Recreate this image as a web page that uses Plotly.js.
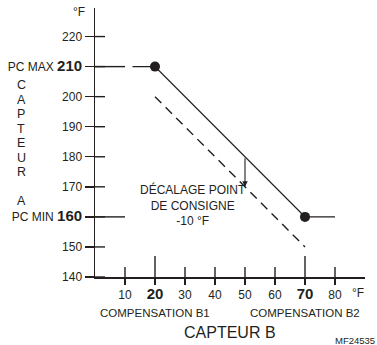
<!DOCTYPE html>
<html>
<head>
<meta charset="utf-8">
<script src="https://cdn.plot.ly/plotly-3.0.1.min.js"></script>
<style>html,body{margin:0;padding:0;background:#fff;}#chart{width:377px;height:345px;}</style>
</head>
<body>
<div id="chart"></div>
<script>
// ---- data ----
var yTickVals = [140, 150, 160, 170, 180, 190, 200, 210, 220];
var yTickText = ['140', '150', 'PC MIN <b><span style="font-size:15px">160</span></b>', '170', '180', '190', '200', 'PC MAX <b><span style="font-size:15px">210</span></b>', '220'];
var xTickVals = [10, 20, 30, 40, 50, 60, 70, 80];
var xTickText = ['10', '<b><span style="font-size:15px">20</span></b>', '30', '40', '50', '60', '<b><span style="font-size:15px">70</span></b>', '80'];
var xLongTicks = [20, 70];
var pcMax = 210, pcMin = 160;
var solidX = [12.5, 20, 70, 80];
var solidY = [210, 210, 160, 160];
var dotX = [20, 70];
var dotY = [210, 160];
var dashX = [20, 70];
var dashY = [200, 150];
var offsetX = 50, offsetFrom = 180, offsetTo = 170;
var offsetLabel = 'DÉCALAGE POINT<br>DE CONSIGNE<br>-10 °F';
var comp1 = 'COMPENSATION B1', comp2 = 'COMPENSATION B2';
var xTitle = 'CAPTEUR B';
var yTitle = 'CAPTEUR A';
var unitLabel = '°F';
var code = 'MF24535';

var FONT = 'Liberation Sans, Arial, Helvetica, sans-serif';
var INK = '#231f20';

var traces = [
  {x: solidX, y: solidY, mode: 'lines', line: {color: INK, width: 1.4}, hoverinfo: 'skip'},
  {x: dashX, y: dashY, mode: 'lines', line: {color: INK, width: 1.4, dash: '9px,6px'}, hoverinfo: 'skip'},
  {x: dotX, y: dotY, mode: 'markers', marker: {color: INK, size: 10}, hoverinfo: 'skip'}
];

var shapes = [];
// inside halves of y ticks
yTickVals.forEach(function (v) {
  shapes.push({type: 'line', xref: 'x', yref: 'y', xsizemode: 'pixel', xanchor: 0, x0: 0, x1: 10, y0: v, y1: v, line: {color: INK, width: 1.4}});
});
// long ticks for PC max/min
[pcMax, pcMin].forEach(function (v) {
  shapes.push({type: 'line', xref: 'x', yref: 'y', x0: 0, x1: 10, y0: v, y1: v, line: {color: INK, width: 1.4}});
});
// inside parts of x ticks
xTickVals.forEach(function (v) {
  var len = xLongTicks.indexOf(v) >= 0 ? 21 : 10;
  shapes.push({type: 'line', xref: 'x', yref: 'y', ysizemode: 'pixel', yanchor: 140, y0: 0, y1: len, x0: v, x1: v, line: {color: INK, width: 1.4}});
});

var annotations = [
  {x: offsetX, y: offsetTo, ax: offsetX, ay: offsetFrom, axref: 'x', ayref: 'y', xref: 'x', yref: 'y', text: '', showarrow: true, arrowhead: 2, arrowsize: 1, arrowwidth: 1.1, arrowcolor: INK},
  {x: 32.5, y: 170, xref: 'x', yref: 'y', yanchor: 'top', yshift: 7, text: offsetLabel, showarrow: false, align: 'center', font: {family: FONT, size: 12, color: INK}},
  {x: 20, y: 140, xref: 'x', yref: 'y', yshift: -36, text: comp1, showarrow: false, font: {family: FONT, size: 11.5, color: INK}},
  {x: 70, y: 140, xref: 'x', yref: 'y', yshift: -36, text: comp2, showarrow: false, font: {family: FONT, size: 11.5, color: INK}},
  {x: 45, y: 140, xref: 'x', yref: 'y', yshift: -55, text: xTitle, showarrow: false, font: {family: FONT, size: 16, color: INK}},
  {x: 90, y: 140, xref: 'x', yref: 'y', xanchor: 'right', xshift: 12, yshift: -63, text: code, showarrow: false, font: {family: FONT, size: 9.5, color: INK}},
  {x: 87.7, y: 140, xref: 'x', yref: 'y', yshift: -16, text: unitLabel, showarrow: false, font: {family: FONT, size: 12, color: INK}},
  {x: 0, y: 228.2, xref: 'x', yref: 'y', xshift: -16, text: unitLabel, showarrow: false, font: {family: FONT, size: 12, color: INK}}
];
// stacked vertical y title
var letters = yTitle.split('');
letters.forEach(function (ch, i) {
  if (ch === ' ') return;
  annotations.push({x: 0, y: 203.8 - i * 4.83, xref: 'x', yref: 'y', xshift: -74, text: ch, showarrow: false, font: {family: FONT, size: 12.5, color: INK}});
});

var layout = {
  width: 377, height: 345,
  margin: {l: 95, r: 12, t: 8, b: 68},
  paper_bgcolor: '#fff', plot_bgcolor: '#fff',
  showlegend: false,
  font: {family: FONT, color: INK, size: 12},
  xaxis: {range: [0, 90], showgrid: false, zeroline: false, showline: true, linecolor: INK, linewidth: 1.5,
          tickmode: 'array', tickvals: xTickVals, ticktext: xTickText, ticks: 'outside', ticklen: 6, tickwidth: 1.4, tickcolor: INK,
          tickfont: {family: FONT, size: 12, color: INK}, fixedrange: true},
  yaxis: {range: [140, 229.5], showgrid: false, zeroline: false, showline: true, linecolor: INK, linewidth: 1.5,
          tickmode: 'array', tickvals: yTickVals, ticktext: yTickText, ticks: 'outside', ticklen: 9, tickwidth: 1.4, tickcolor: INK,
          tickfont: {family: FONT, size: 12, color: INK}, fixedrange: true},
  shapes: shapes,
  annotations: annotations
};

Plotly.newPlot('chart', traces, layout, {displayModeBar: false, staticPlot: true});
</script>
</body>
</html>
